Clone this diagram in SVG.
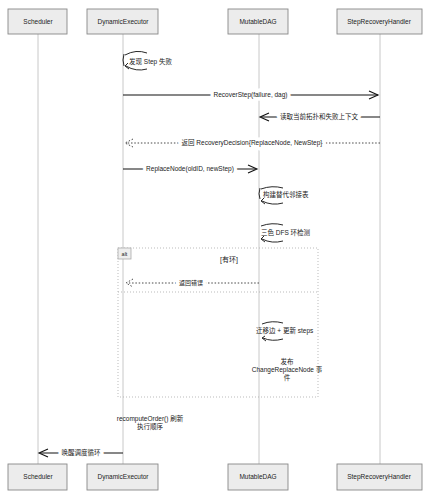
<svg xmlns="http://www.w3.org/2000/svg" width="441" height="499" viewBox="0 0 441 499">
<defs>
<style>
text{font-family:"Liberation Sans","Noto Sans CJK SC",sans-serif;font-size:6.5px;fill:#222}
.pbox{fill:#ececec;stroke:#888;stroke-width:0.9}
.plbl{font-size:6.5px;text-anchor:middle}
.life{stroke:#c8c8c8;stroke-width:1;fill:none}
.msg{stroke:#111;stroke-width:1.2;fill:none}
.ret{stroke:#333;stroke-width:0.9;fill:none;stroke-dasharray:1.5 1.8}
.loop{stroke:#111;stroke-width:0.9;fill:none}
.frame{stroke:#aaa;stroke-width:0.8;fill:none;stroke-dasharray:1 2}
.ah{stroke:#111;stroke-width:1.1;fill:none}
.c{text-anchor:middle}
.h{stroke:#fff;stroke-width:7px;paint-order:stroke;stroke-linejoin:round}
</style>
</defs>
<rect width="441" height="499" fill="#fff"/>
<g id="lifelines">
<line class="life" x1="38" y1="34" x2="38" y2="464"/>
<line class="life" x1="123" y1="34" x2="123" y2="464"/>
<line class="life" x1="259" y1="34" x2="259" y2="464"/>
<line class="life" x1="380" y1="34" x2="380" y2="464"/>
</g>
<g id="Scheduler">
<rect class="pbox" x="8" y="9" width="59" height="25"/><text class="plbl" x="38" y="24">Scheduler</text>
<rect class="pbox" x="8" y="464" width="59" height="26"/><text class="plbl" x="38" y="479">Scheduler</text>
</g>
<g id="DynamicExecutor">
<rect class="pbox" x="87" y="9" width="71" height="25"/><text class="plbl" x="123" y="24">DynamicExecutor</text>
<rect class="pbox" x="87" y="464" width="71" height="26"/><text class="plbl" x="123" y="479">DynamicExecutor</text>
</g>
<g id="MutableDAG">
<rect class="pbox" x="228" y="9" width="60" height="25"/><text class="plbl" x="258" y="24">MutableDAG</text>
<rect class="pbox" x="228" y="464" width="60" height="26"/><text class="plbl" x="258" y="479">MutableDAG</text>
</g>
<g id="StepRecoveryHandler">
<rect class="pbox" x="337" y="9" width="85" height="25"/><text class="plbl" x="379" y="24">StepRecoveryHandler</text>
<rect class="pbox" x="337" y="464" width="85" height="26"/><text class="plbl" x="379" y="479">StepRecoveryHandler</text>
</g>
<g id="alt-frame">
<rect class="frame" x="118" y="248" width="200" height="149"/>
<rect x="118" y="248" width="13" height="11" fill="#eee" stroke="#aaa" stroke-width="0.8"/>
<text x="124.5" y="256" class="c" style="font-size:5.5px">alt</text>
<text x="229" y="262" class="c" style="font-size:7px">[有环]</text>
<line class="frame" x1="118" y1="292" x2="318" y2="292"/>
</g>
<g id="connectors">
<path class="loop" d="M125,55 Q136,49 147,53"/>
<path class="loop" d="M147,69 Q136,72 126,66"/>
<path class="loop" d="M128,63 L125,66 L129,69"/>
<path class="loop" d="M124,54 Q122,60 124,66"/>
<text x="129" y="64">发现 Step 失败</text>

<line class="msg" x1="123" y1="95" x2="378" y2="95"/>
<path class="ah" d="M369,91 L378,95 L369,99"/>
<text x="250.5" y="97" class="c h">RecoverStep(failure, dag)</text>

<line class="msg" x1="380" y1="117" x2="261" y2="117"/>
<path class="ah" d="M269,113 L260,117 L269,121"/>
<text x="319" y="119" class="c h">读取当前拓扑和失败上下文</text>

<line class="ret" x1="380" y1="143" x2="126" y2="143"/>
<path class="ret" d="M133,139 L125,143 L133,147"/>
<text x="252" y="145" class="c h">返回 RecoveryDecision{ReplaceNode, NewStep}</text>

<line class="msg" x1="123" y1="169" x2="256" y2="169"/>
<path class="ah" d="M248,165 L257,169 L248,173"/>
<text x="190" y="171" class="c h">ReplaceNode(oldID, newStep)</text>

<path class="loop" d="M261,189 Q272,185 283,188"/>
<path class="loop" d="M283,203 Q272,206 262,201"/>
<path class="loop" d="M264,198 L261,201 L265,204"/>
<path class="loop" d="M260,188 Q258,194 260,199"/>
<text x="263" y="197">构建替代邻接表</text>

<path class="loop" d="M261,226 Q272,222 283,225"/>
<path class="loop" d="M283,241 Q272,244 262,239"/>
<path class="loop" d="M264,236 L261,239 L265,242"/>
<text x="261" y="235">三色 DFS 环检测</text>

<line class="ret" x1="259" y1="283" x2="129" y2="283"/>
<path class="ret" d="M133,279 L126,283 L133,287"/>
<text x="191" y="285" class="c h" style="font-size:6px">返回错误</text>

<path class="loop" d="M262,324 Q272,320 283,323"/>
<path class="loop" d="M283,339 Q272,342 263,338"/>
<path class="loop" d="M265,336 L262,338 L266,341"/>
<text x="256" y="333">迁移边 + 更新 steps</text>

<text x="287" y="364" class="c">发布</text>
<text x="287" y="372" class="c">ChangeReplaceNode 事</text>
<text x="287" y="380" class="c">件</text>

<text x="150" y="421" class="c">recomputeOrder() 刷新</text>
<text x="150" y="429" class="c">执行顺序</text>

<line class="msg" x1="123" y1="453" x2="40" y2="453"/>
<path class="ah" d="M48,449 L39,453 L48,457"/>
<text x="81" y="455" class="c h">唤醒调度循环</text>
</g>
</svg>
